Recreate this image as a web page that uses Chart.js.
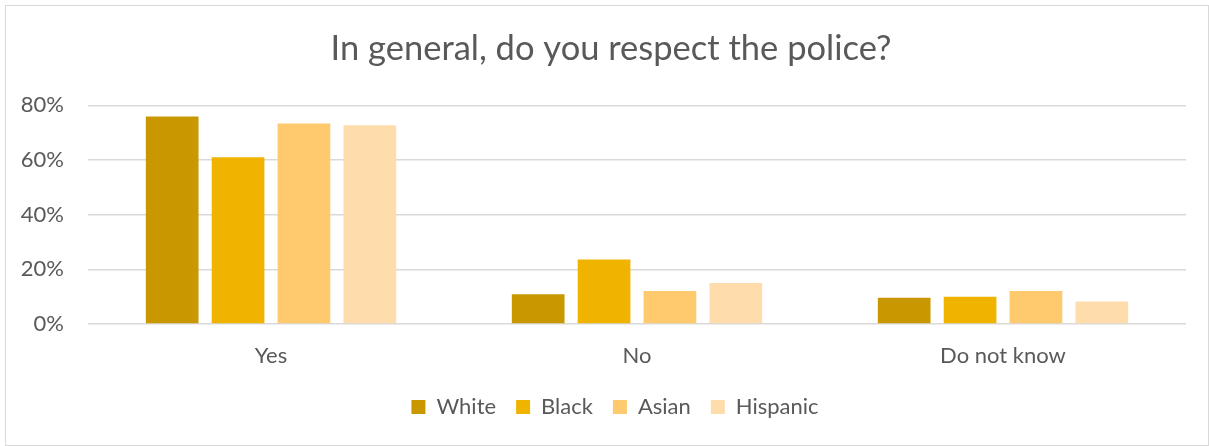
<!DOCTYPE html>
<html>
<head>
<meta charset="utf-8">
<script src="https://cdn.jsdelivr.net/npm/chart.js@4"></script>
<style>
  html, body { margin: 0; padding: 0; background: #fff; }
  #wrap { position: relative; width: 1209px; height: 446px; }
</style>
</head>
<body>
<div id="wrap"><canvas id="chart" width="1209" height="446"></canvas></div>
<script>
// answers on the x axis
const categories = ['Yes', 'No', 'Do not know'];
// share of respondents (%) per group
const white = [75.9, 10.9, 9.6];
const black = [61.0, 23.6, 10.0];
const asian = [73.4, 12.1, 12.1];
const hispanic = [72.7, 15.0, 8.2];
const yTicks = [0, 20, 40, 60, 80];

const textColor = '#595959';
const fontFamily = 'Lato, Carlito, Calibri, sans-serif';

// light grey frame round the whole chart, like the Excel chart area
const frame = {
  id: 'frame',
  beforeDraw(chart) {
    const ctx = chart.ctx;
    ctx.save();
    ctx.fillStyle = '#fff';
    ctx.fillRect(0, 0, chart.width, chart.height);
    ctx.strokeStyle = '#d9d9d9';
    ctx.lineWidth = 1;
    ctx.strokeRect(5.5, 5.5, chart.width - 6, chart.height - 6);
    ctx.restore();
  }
};

// nudge title and legend so they sit centred on the whole frame, as in Excel
const recentre = {
  id: 'recentre',
  afterLayout(chart) {
    const move = (box, centre) => {
      const d = centre - (box.left + box.right) / 2;
      box.left += d;
      box.right += d;
    };
    move(chart.titleBlock, 611);
    move(chart.legend, 615);
    if (chart.legend.adjustHitBoxes) chart.legend.adjustHitBoxes();
  }
};

function ds(label, data, color) {
  return {
    label: label,
    data: data,
    backgroundColor: color,
    borderWidth: 0,
    categoryPercentage: 0.72,
    barPercentage: 0.8
  };
}

new Chart(document.getElementById('chart'), {
  type: 'bar',
  data: {
    labels: categories,
    datasets: [
      ds('White', white, '#c99700'),
      ds('Black', black, '#f0b400'),
      ds('Asian', asian, '#ffc96d'),
      ds('Hispanic', hispanic, '#ffdcab')
    ]
  },
  options: {
    responsive: false,
    animation: false,
    devicePixelRatio: 1,
    layout: { padding: { left: 0, right: 23, top: 0, bottom: 18 } },
    plugins: {
      title: {
        display: true,
        text: 'In general, do you respect the police?',
        color: textColor,
        font: { family: fontFamily, size: 34.5, weight: 'normal' },
        padding: { top: 28, bottom: 36 }
      },
      legend: {
        position: 'bottom',
        labels: {
          color: textColor,
          font: { family: fontFamily, size: 22 },
          boxWidth: 14,
          boxHeight: 14,
          padding: 20
        }
      },
      tooltip: { enabled: false }
    },
    scales: {
      x: {
        grid: { display: false, drawTicks: false },
        border: { display: false },
        ticks: { color: textColor, font: { family: fontFamily, size: 22 }, padding: 19 },
        afterFit(scale) { scale.height = 52; }
      },
      y: {
        min: 0,
        max: 80,
        afterBuildTicks(scale) { scale.ticks = yTicks.map(v => ({ value: v })); },
        grid: { color: '#d9d9d9', lineWidth: 1.5, drawTicks: false },
        border: { display: false },
        ticks: {
          color: textColor,
          font: { family: fontFamily, size: 22 },
          padding: 24,
          callback: v => v + '%'
        },
        afterFit(scale) { scale.width = 88; }
      }
    }
  },
  plugins: [frame, recentre]
});
</script>
</body>
</html>
